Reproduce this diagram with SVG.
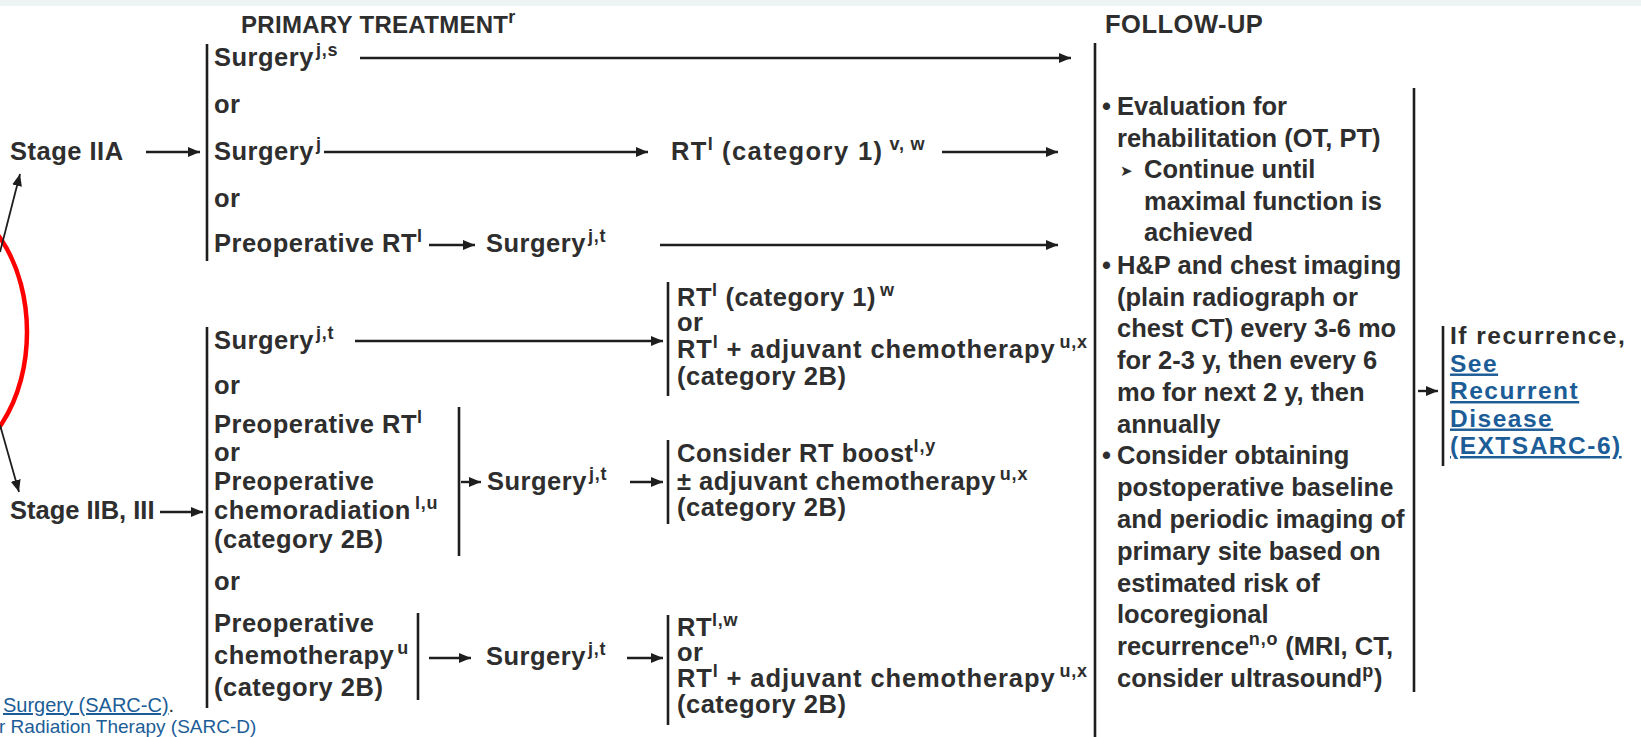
<svg xmlns="http://www.w3.org/2000/svg" width="1641" height="737" viewBox="0 0 1641 737">
<defs>
<marker id="ah" markerUnits="userSpaceOnUse" markerWidth="13" markerHeight="10" refX="12" refY="5" orient="auto"><path d="M0,0 L12,5 L0,10 z" fill="#1e1e1e"/></marker>
<style>
.t{font-family:"Liberation Sans",Arial,Helvetica,sans-serif;font-weight:bold;font-size:25.5px;fill:#2e2e2e;letter-spacing:0.5px}
.f{letter-spacing:0}
.s{font-size:18px;letter-spacing:0.8px}
.ln{stroke:#1e1e1e;stroke-width:2.4;fill:none}
.ar{marker-end:url(#ah)}
.bar{stroke:#1e1e1e;stroke-width:2.6}
.lk{fill:#1c5d97;text-decoration:underline}
.r{font-size:24.5px;letter-spacing:1.5px}
.ft{font-family:"Liberation Sans",Arial,sans-serif;font-size:20px;fill:#1c5d97}
.sym{font-family:"DejaVu Sans",sans-serif;font-size:15px;letter-spacing:0}
</style>
</defs>
<rect x="0" y="0" width="1641" height="737" fill="#ffffff"/>
<rect x="0" y="0" width="1641" height="6" fill="#eef3f3"/>

<g id="annotation">
<ellipse cx="-60" cy="332" rx="87" ry="130" fill="none" stroke="#ff0000" stroke-width="4.5"/>
</g>

<g id="hdr-primary"><text class="t" x="241" y="33" style="font-size:24px;letter-spacing:0.3px">PRIMARY TREATMENT<tspan class="s" dy="-10">r</tspan></text></g>
<g id="hdr-followup"><text class="t" x="1105" y="33">FOLLOW-UP</text></g>

<g id="stage2a"><text class="t" x="10" y="160">Stage IIA</text></g>
<g id="stage2b3"><text class="t f" x="10" y="519">Stage IIB, III</text></g>

<g id="g1-options">
<line class="bar" x1="207" y1="44" x2="207" y2="261"/>
<text class="t" x="214" y="66">Surgery<tspan class="s" dy="-10" dx="2">j,s</tspan></text>
<text class="t" x="214" y="113">or</text>
<text class="t" x="214" y="160">Surgery<tspan class="s" dy="-10" dx="2">j</tspan></text>
<text class="t" x="214" y="207">or</text>
<text class="t" x="214" y="252">Preoperative RT<tspan class="s" dy="-10">l</tspan></text>
</g>
<g id="g1-surgery-jt"><text class="t" x="486" y="252">Surgery<tspan class="s" dy="-10" dx="2">j,t</tspan></text></g>
<g id="g1-rt-cat1"><text class="t" x="671" y="160" style="letter-spacing:1.4px">RT<tspan class="s" dy="-10">l</tspan><tspan dy="10"> (category 1)</tspan><tspan class="s" dy="-10" dx="6">v, w</tspan></text></g>

<g id="g2-options">
<line class="bar" x1="207" y1="327" x2="207" y2="708"/>
<text class="t" x="214" y="349">Surgery<tspan class="s" dy="-10" dx="2">j,t</tspan></text>
<text class="t" x="214" y="394">or</text>
<text class="t" x="214" y="590">or</text>
</g>
<g id="g2-preop-rt">
<line class="bar" x1="459" y1="407" x2="459" y2="556"/>
<text class="t" x="214" y="433">Preoperative RT<tspan class="s" dy="-10">l</tspan></text>
<text class="t" x="214" y="461">or</text>
<text class="t" x="214" y="490">Preoperative</text>
<text class="t" x="214" y="519">chemoradiation<tspan class="s" dy="-10" dx="4">l,u</tspan></text>
<text class="t" x="214" y="548">(category 2B)</text>
</g>
<g id="g2-preop-chemo">
<line class="bar" x1="418" y1="613" x2="418" y2="700"/>
<text class="t" x="214" y="632">Preoperative</text>
<text class="t" x="214" y="664">chemotherapy<tspan class="s" dy="-10" dx="3">u</tspan></text>
<text class="t" x="214" y="696">(category 2B)</text>
</g>
<g id="g2-surgery-b"><text class="t" x="487" y="490">Surgery<tspan class="s" dy="-10" dx="2">j,t</tspan></text></g>
<g id="g2-surgery-c"><text class="t" x="486" y="665">Surgery<tspan class="s" dy="-10" dx="2">j,t</tspan></text></g>

<g id="block-a">
<line class="bar" x1="668" y1="282" x2="668" y2="396"/>
<text class="t" x="677" y="306">RT<tspan class="s" dy="-10">l</tspan><tspan dy="10"> (category 1)</tspan><tspan class="s" dy="-10" dx="4">w</tspan></text>
<text class="t" x="677" y="331">or</text>
<text class="t" x="677" y="358" style="letter-spacing:0.9px">RT<tspan class="s" dy="-10">l</tspan><tspan dy="10"> + adjuvant chemotherapy</tspan><tspan class="s" dy="-10" dx="4">u,x</tspan></text>
<text class="t" x="677" y="385">(category 2B)</text>
</g>
<g id="block-b">
<line class="bar" x1="668" y1="440" x2="668" y2="524"/>
<text class="t" x="677" y="462">Consider RT boost<tspan class="s" dy="-10">l,y</tspan></text>
<text class="t" x="677" y="490">± adjuvant chemotherapy<tspan class="s" dy="-10" dx="4">u,x</tspan></text>
<text class="t" x="677" y="516">(category 2B)</text>
</g>
<g id="block-c">
<line class="bar" x1="668" y1="615" x2="668" y2="725"/>
<text class="t" x="677" y="636">RT<tspan class="s" dy="-10">l,w</tspan></text>
<text class="t" x="677" y="661">or</text>
<text class="t" x="677" y="687" style="letter-spacing:0.9px">RT<tspan class="s" dy="-10">l</tspan><tspan dy="10"> + adjuvant chemotherapy</tspan><tspan class="s" dy="-10" dx="4">u,x</tspan></text>
<text class="t" x="677" y="713">(category 2B)</text>
</g>

<g id="follow-up">
<line class="bar" x1="1095" y1="43" x2="1095" y2="737"/>
<line class="bar" x1="1414" y1="88" x2="1414" y2="692"/>
<text class="t" x="1102" y="115">•</text>
<text class="t f" x="1117" y="115">Evaluation for</text>
<text class="t f" x="1117" y="147">rehabilitation (OT, PT)</text>
<text class="t sym" x="1120" y="176">➤</text>
<text class="t f" x="1144" y="178">Continue until</text>
<text class="t f" x="1144" y="210">maximal function is</text>
<text class="t f" x="1144" y="241">achieved</text>
<text class="t" x="1102" y="274">•</text>
<text class="t f" x="1117" y="274">H&amp;P and chest imaging</text>
<text class="t f" x="1117" y="306">(plain radiograph or</text>
<text class="t f" x="1117" y="337">chest CT) every 3-6 mo</text>
<text class="t f" x="1117" y="369">for 2-3 y, then every 6</text>
<text class="t f" x="1117" y="401">mo for next 2 y, then</text>
<text class="t f" x="1117" y="433">annually</text>
<text class="t" x="1102" y="464">•</text>
<text class="t f" x="1117" y="464">Consider obtaining</text>
<text class="t f" x="1117" y="496">postoperative baseline</text>
<text class="t f" x="1117" y="528">and periodic imaging of</text>
<text class="t f" x="1117" y="560">primary site based on</text>
<text class="t f" x="1117" y="592">estimated risk of</text>
<text class="t f" x="1117" y="623">locoregional</text>
<text class="t f" x="1117" y="655">recurrence<tspan class="s" dy="-10">n,o</tspan><tspan dy="10"> (MRI, CT,</tspan></text>
<text class="t f" x="1117" y="687">consider ultrasound<tspan class="s" dy="-10">p</tspan><tspan dy="10">)</tspan></text>
</g>

<g id="recurrence">
<line class="bar" x1="1443" y1="326" x2="1443" y2="466"/>
<text class="t r" x="1450" y="344">If recurrence,</text>
<text class="t r lk" x="1450" y="371.5">See</text>
<text class="t r lk" x="1450" y="399">Recurrent</text>
<text class="t r lk" x="1450" y="426.5">Disease</text>
<text class="t r lk" x="1450" y="454">(EXTSARC-6)</text>
</g>

<g id="footnote-links">
<text class="ft" x="3" y="712"><tspan text-decoration="underline">Surgery (SARC-C)</tspan><tspan fill="#2e2e2e">.</tspan></text>
<text class="ft" x="-1" y="733" style="font-size:19px">r Radiation Therapy (SARC-D)</text>
</g>

<g id="connectors">
<path class="ln ar" d="M146,152 H200"/>
<path class="ln ar" d="M360,58 H1071"/>
<path class="ln ar" d="M324,152 H648"/>
<path class="ln ar" d="M942,152 H1058"/>
<path class="ln ar" d="M429,245 H475"/>
<path class="ln ar" d="M660,245 H1058"/>
<path class="ln ar" d="M160,512 H203"/>
<path class="ln ar" d="M355,341 H663"/>
<path class="ln ar" d="M461,482 H481"/>
<path class="ln ar" d="M630,482 H663"/>
<path class="ln ar" d="M429,658 H471"/>
<path class="ln ar" d="M627,658 H663"/>
<path class="ln ar" d="M1418,391 H1438"/>
<path class="ln ar" d="M0,252 L20,174" style="stroke-width:1.8"/>
<path class="ln ar" d="M0,425 L19,492" style="stroke-width:1.8"/>
</g>
</svg>
